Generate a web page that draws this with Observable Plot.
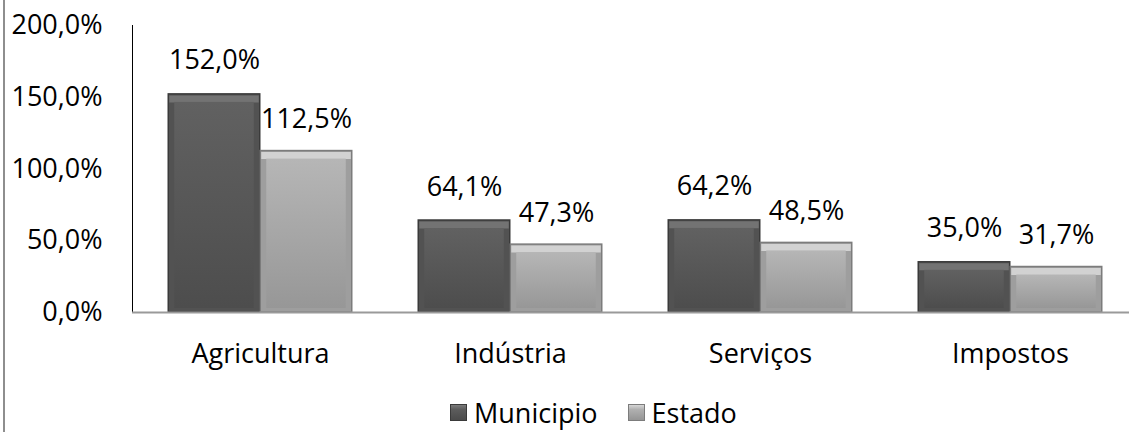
<!DOCTYPE html>
<html>
<head>
<meta charset="utf-8">
<script src="https://cdn.jsdelivr.net/npm/d3@7"></script>
<script src="https://cdn.jsdelivr.net/npm/@observablehq/plot@0.6"></script>
<style>
  body { margin: 0; background: #fff; font-family: "Open Sans", sans-serif; }
  #wrap { position: relative; width: 1129px; height: 432px; overflow: hidden; }
  #border { position: absolute; left: 3px; top: 0; width: 2px; height: 432px; background: #8e8e8e; }
  #legend { position: absolute; top: 392px; left: 0; width: 1129px; height: 40px;
            display: flex; align-items: center; font-size: 27px; color: #000; }
  .item { display: flex; align-items: center; }
  .sw { width: 17px; height: 17px; margin-right: 7px; box-sizing: border-box; }
  svg text { font-family: "Open Sans", sans-serif; }
</style>
</head>
<body>
<svg width="0" height="0" style="position:absolute">
  <defs>
    <linearGradient id="fM" x1="0" y1="0" x2="0" y2="1">
      <stop offset="0" stop-color="#616161"/>
      <stop offset="1" stop-color="#4d4d4d"/>
    </linearGradient>
    <linearGradient id="fE" x1="0" y1="0" x2="0" y2="1">
      <stop offset="0" stop-color="#b6b6b6"/>
      <stop offset="1" stop-color="#979797"/>
    </linearGradient>
  </defs>
</svg>
<div id="wrap">
  <div id="chart"></div>
  <div id="border"></div>
  <div id="legend"></div>
</div>
<script>
const categories = ["Agricultura", "Indústria", "Serviços", "Impostos"];
const municipio = [152.0, 64.1, 64.2, 35.0];
const estado = [112.5, 47.3, 48.5, 31.7];
const series = ["Municipio", "Estado"];
const yTicks = [0, 50, 100, 150, 200];

const fmt = v => v.toFixed(1).replace(".", ",") + "%";
const dataM = categories.map((c, i) => ({category: c, value: municipio[i]}));
const dataE = categories.map((c, i) => ({category: c, value: estado[i]}));

const barW = 92;
const half = 46;
const step = (1136 - 134) / categories.length;
const inset = (step - barW) / 2;
const bev = 6;

function bevelBar(data, dx, o) {
  return [
    Plot.barY(data, {x: "category", y: "value", dx, insetLeft: inset, insetRight: inset,
      fill: o.side, stroke: o.stroke, strokeWidth: 1.5}),
    Plot.tickY(data, {x: "category", y: "value", dx, dy: 4.5, insetLeft: inset + 1, insetRight: inset + 1,
      stroke: o.top, strokeWidth: 7}),
    Plot.barY(data, {x: "category", y: "value", dx, insetLeft: inset + bev, insetRight: inset + bev,
      insetTop: 8, insetBottom: 4, fill: o.face})
  ];
}

const chart = Plot.plot({
  width: 1129,
  height: 385,
  marginLeft: 132,
  marginRight: 0,
  marginTop: 25,
  marginBottom: 73,
  style: {fontSize: "27px", fontFamily: "Open Sans, sans-serif", color: "#000", background: "transparent"},
  x: {domain: categories, range: [134, 1136], padding: 0, label: null, tickSize: 0, tickPadding: 31},
  y: {domain: [0, 200], ticks: yTicks, tickFormat: fmt, label: null, tickSize: 0, tickPadding: 30, line: true},
  marks: [
    ...bevelBar(dataM, -half, {side: "#525252", stroke: "#3a3a3a", top: "#737373", face: "url(#fM)"}),
    ...bevelBar(dataE, half, {side: "#9e9e9e", stroke: "#7c7c7c", top: "#d2d2d2", face: "url(#fE)"}),
    Plot.ruleY([0], {stroke: "#9a9a9a", strokeWidth: 2}),
    Plot.text(dataM, {x: "category", y: "value", text: d => fmt(d.value), dx: -half, dy: -25,
      lineAnchor: "bottom", fill: "#000", fontSize: 27}),
    Plot.text(dataE, {x: "category", y: "value", text: d => fmt(d.value), dx: half, dy: -23,
      lineAnchor: "bottom", fill: "#000", fontSize: 27})
  ]
});
chart.querySelectorAll('g[aria-label="y-axis"] path, g[aria-label="y-axis"] line').forEach(p => p.setAttribute("stroke", "#9a9a9a"));
document.getElementById("chart").appendChild(chart);

const legend = document.getElementById("legend");
legend.style.paddingLeft = "450px";
const swatchBg = ["linear-gradient(#7a7a7a, #5c5c5c 30%, #4b4b4b 100%)", "linear-gradient(#d6d6d6, #b0b0b0 30%, #959595 100%)"];
const swatchBorder = ["#3a3a3a", "#7c7c7c"];
series.forEach((s, i) => {
  const item = document.createElement("div");
  item.className = "item";
  if (i > 0) item.style.marginLeft = "30px";
  const sw = document.createElement("div");
  sw.className = "sw";
  sw.style.background = swatchBg[i];
  sw.style.border = "1px solid " + swatchBorder[i];
  const t = document.createElement("span");
  t.textContent = s;
  item.appendChild(sw);
  item.appendChild(t);
  legend.appendChild(item);
});
</script>
</body>
</html>
